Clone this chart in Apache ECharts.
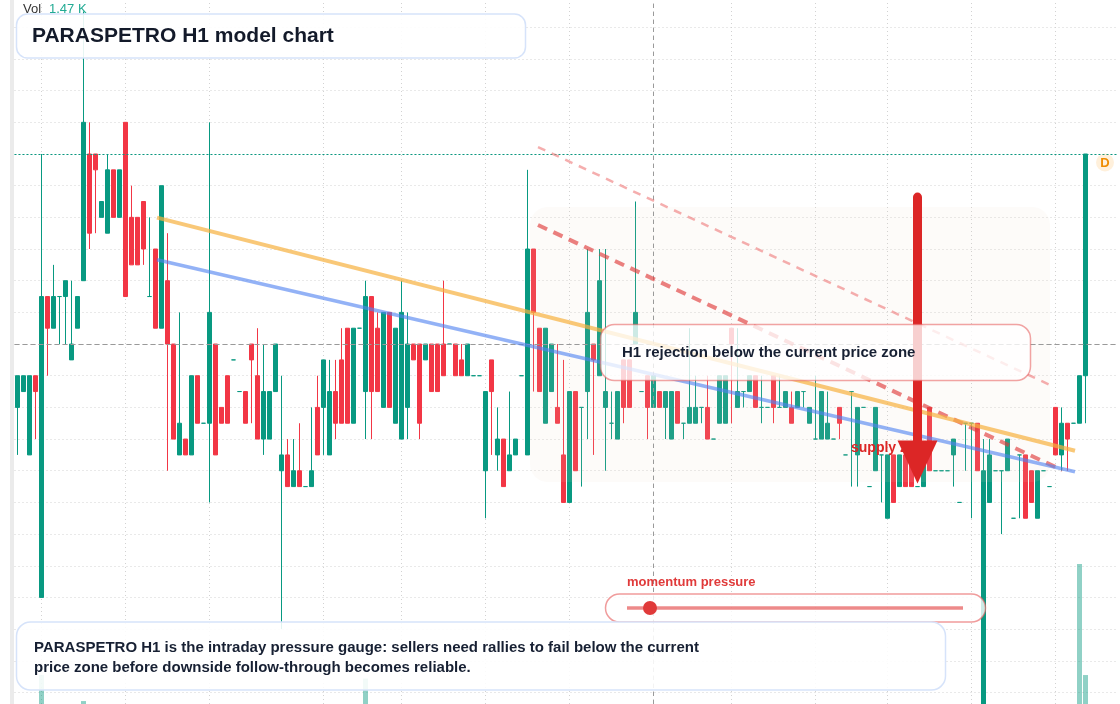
<!DOCTYPE html>
<html><head><meta charset="utf-8">
<script src="https://cdn.jsdelivr.net/npm/echarts@6/dist/echarts.min.js"></script>
<style>html,body{margin:0;padding:0;background:#fff}#c{width:1120px;height:704px}</style>
</head><body><div id="c"></div>
<script>
// ---------- data (H1 candles, oldest -> newest) ----------
const opens = [
.280,.285,.265,.290,.220,.315,.305,.315,.315,.295,
.305,.320,.360,.360,.340,.335,.355,.340,.370,.340,
.340,.345,.315,.330,.305,.320,.300,.265,.270,.265,
.290,.275,.275,.300,.280,.290,.295,.285,.285,.300,
.290,.270,.270,.285,.260,.265,.255,.260,.255,.255,
.280,.280,.265,.285,.295,.305,.275,.305,.285,.315,
.305,.280,.310,.275,.270,.280,.300,.300,.295,.300,
.300,.300,.300,.300,.295,.290,.290,.290,.260,.295,
.265,.270,.260,.265,.290,.265,.330,.305,.275,.285,
.280,.265,.250,.285,.280,.285,.300,.290,.280,.275,
.270,.295,.295,.300,.285,.290,.280,.285,.280,.270,
.285,.275,.275,.275,.280,.280,.270,.275,.275,.305,
.280,.285,.285,.290,.280,.280,.290,.280,.280,.280,
.280,.285,.275,.270,.270,.270,.270,.280,.265,.285,
.265,.280,.255,.260,.265,.245,.265,.255,.265,.265,
.255,.255,.280,.260,.260,.260,.265,.250,.275,.275,
.275,.180,.250,.260,.260,.260,.245,.265,.265,.260,
.245,.260,.255,.280,.265,.275,.275,.275,.290];
const closes = [
.290,.290,.290,.285,.315,.305,.315,.315,.320,.300,
.315,.370,.335,.355,.345,.355,.340,.355,.315,.325,
.325,.330,.315,.305,.350,.300,.270,.275,.265,.290,
.275,.275,.310,.265,.275,.275,.295,.285,.275,.295,
.270,.285,.285,.300,.265,.255,.260,.255,.255,.260,
.265,.295,.285,.275,.275,.275,.305,.305,.315,.285,
.285,.310,.280,.305,.310,.300,.295,.275,.300,.285,
.285,.290,.300,.290,.290,.300,.290,.290,.285,.285,
.270,.255,.265,.270,.290,.330,.310,.285,.305,.300,
.275,.250,.285,.260,.280,.310,.295,.320,.285,.275,
.285,.280,.280,.310,.285,.280,.290,.280,.285,.285,
.275,.275,.280,.280,.280,.270,.270,.290,.290,.300,
.285,.285,.290,.280,.280,.280,.280,.280,.285,.275,
.285,.285,.280,.270,.285,.275,.270,.275,.265,.285,
.280,.280,.255,.280,.265,.265,.250,.265,.255,.255,
.255,.265,.260,.260,.260,.260,.270,.250,.275,.275,
.260,.260,.265,.260,.260,.270,.245,.265,.245,.250,
.260,.260,.255,.265,.275,.270,.275,.290,.360];
const highs = [
.290,.290,.290,.290,.360,.315,.325,.315,.320,.320,
.315,.405,.370,.360,.345,.360,.355,.355,.370,.350,
.340,.345,.340,.330,.350,.335,.300,.310,.270,.290,
.290,.275,.370,.300,.280,.290,.295,.285,.285,.300,
.305,.300,.285,.300,.290,.270,.270,.275,.255,.280,
.290,.295,.295,.295,.305,.305,.305,.305,.320,.315,
.310,.310,.310,.305,.320,.310,.300,.300,.300,.300,
.300,.320,.300,.300,.300,.300,.290,.290,.285,.295,
.280,.270,.285,.270,.290,.355,.330,.305,.305,.300,
.300,.295,.285,.285,.280,.330,.300,.330,.330,.285,
.285,.295,.295,.345,.285,.290,.290,.285,.285,.285,
.285,.275,.305,.290,.280,.290,.270,.290,.290,.305,
.305,.285,.290,.290,.290,.280,.290,.290,.285,.285,
.285,.285,.280,.290,.285,.285,.270,.280,.265,.285,
.280,.280,.255,.280,.265,.265,.265,.265,.265,.265,
.255,.265,.280,.260,.260,.260,.270,.250,.275,.275,
.275,.270,.270,.260,.260,.270,.245,.265,.265,.260,
.260,.260,.255,.280,.280,.275,.275,.290,.360];
const lows = [
.265,.285,.265,.270,.220,.290,.305,.300,.300,.295,
.305,.320,.330,.335,.340,.335,.340,.340,.315,.325,
.325,.325,.315,.305,.305,.260,.270,.265,.265,.265,
.275,.275,.250,.265,.275,.275,.295,.285,.275,.275,
.270,.265,.270,.285,.210,.255,.255,.255,.255,.255,
.265,.265,.265,.270,.275,.275,.275,.305,.270,.270,
.285,.280,.280,.275,.270,.270,.295,.270,.295,.285,
.285,.290,.300,.290,.290,.290,.290,.290,.245,.265,
.260,.255,.260,.265,.290,.265,.285,.285,.275,.285,
.275,.250,.250,.260,.255,.270,.265,.290,.260,.270,
.270,.275,.280,.300,.285,.270,.280,.280,.270,.270,
.275,.270,.275,.275,.275,.270,.270,.275,.275,.275,
.280,.280,.285,.280,.275,.280,.275,.280,.280,.275,
.280,.280,.275,.270,.270,.270,.270,.270,.265,.255,
.255,.280,.255,.260,.250,.245,.250,.255,.255,.255,
.255,.255,.260,.260,.260,.260,.255,.250,.260,.245,
.260,.180,.250,.260,.240,.260,.245,.245,.245,.250,
.245,.260,.255,.265,.260,.260,.275,.275,.275];
const volumes = [
620,410,780,350,1470,520,460,300,380,420,
360,1020,690,480,330,540,450,400,820,510,
440,470,260,560,740,650,700,480,390,610,
520,240,880,600,330,450,210,190,370,340,
560,480,430,520,760,510,350,420,180,390,
470,530,480,410,500,560,520,220,1410,640,
490,560,600,430,610,520,330,470,290,420,
380,450,200,370,310,400,190,210,720,460,
380,490,350,300,180,910,680,520,560,410,
360,590,640,530,300,620,410,580,470,260,
390,420,380,540,170,350,380,260,310,390,
330,200,290,240,180,320,170,410,430,300,
260,190,280,330,220,160,340,210,250,280,
230,200,260,240,370,280,170,290,190,260,
440,180,200,500,270,560,430,380,360,340,
230,320,540,190,180,200,350,210,260,300,
470,880,480,220,310,390,200,280,520,360,
420,170,190,480,360,300,160,3390,1470];
// hourly slots on the axis (the last few are still empty)
const slots = Array.from({length: 184}, (_, i) => 'H' + (i + 1));
// first bar of each trading session (dotted vertical separators)
const sessionStarts = [4, 18, 32, 51, 64, 78, 92, 106, 119, 133, 145, 159, 173];
// price gridlines and visible price window
const priceLevels = [0.19,0.20,0.21,0.22,0.23,0.24,0.25,0.26,0.27,0.28,0.29,0.30,0.31,0.32,0.33,0.34,0.35,0.36,0.37,0.38,0.39,0.40];
const priceMin = 0.18636, priceMax = 0.40862;
// volume window of the lower pane
const volMin = 969, volMax = 4498;
// annotation levels [bar index, price]
const trendOrange = [[23.25, 0.3399], [176.25, 0.2663]];
const trendBlue = [[23.25, 0.3266], [176.25, 0.2597]];
const rejectLine = [[86.75, 0.3376], [174.1, 0.2602]];
const upperRejectLine = [[86.75, 0.3622], [172.4, 0.2868]];
const arrowShaft = [[150, 0.3464], [150, 0.2694]];
const arrowHead = [[150, 0.2628]];
const crosshair = {bar: 106, price: 0.3017};

const FONT = '"Liberation Sans", Arial, Helvetica, sans-serif';
const UP = '#089981', DOWN = '#f23645';

const candles = opens.map((o, i) => [o, closes[i], lows[i], highs[i]]);
const volData = volumes.map((v, i) => ({
  value: v,
  itemStyle: {color: closes[i] >= opens[i] ? 'rgba(8,153,129,0.45)' : 'rgba(242,54,69,0.45)'}
}));
const lastClose = closes[closes.length - 1];
const lastVol = volumes[volumes.length - 1];

const gridBase = {left: 14.5, width: 1104};
const chart = echarts.init(document.getElementById('c'), null, {renderer: 'canvas'});
const gridLine = {color: '#d2d2d2', width: 1, type: [1, 3]};

const option = {
  animation: false,
  backgroundColor: '#ffffff',
  grid: [
    Object.assign({top: 0, height: 704}, gridBase),
    Object.assign({top: 500, height: 204}, gridBase)
  ],
  xAxis: [
    {type: 'category', gridIndex: 0, data: slots, boundaryGap: true,
     axisLine: {show: false}, axisTick: {show: false}, axisLabel: {show: false}, splitLine: {show: false}},
    {type: 'value', gridIndex: 0, min: -0.5, max: slots.length - 0.5, show: false},
    {type: 'category', gridIndex: 1, data: slots, boundaryGap: true, show: false}
  ],
  yAxis: [
    {type: 'value', gridIndex: 0, min: priceMin, max: priceMax,
     axisLine: {show: false}, axisTick: {show: false}, axisLabel: {show: false}, splitLine: {show: false}},
    {type: 'value', gridIndex: 1, min: volMin, max: volMax, show: false, splitLine: {show: false}}
  ],
  series: [
    { // grid: price levels + session separators
      type: 'line', xAxisIndex: 0, yAxisIndex: 0, data: [], z: 1, silent: true,
      markLine: {z: 1, silent: true, symbol: 'none', animation: false, label: {show: false},
        lineStyle: gridLine,
        data: sessionStarts.map(i => ({xAxis: slots[i]})).concat(priceLevels.map(p => ({yAxis: p})))}
    },
    {
      type: 'bar', xAxisIndex: 2, yAxisIndex: 1, data: volData, barWidth: 5, z: 2, silent: true
    },
    {
      type: 'candlestick', xAxisIndex: 0, yAxisIndex: 0, data: candles, barWidth: 4, z: 3, silent: true,
      itemStyle: {color: UP, color0: DOWN, borderColor: UP, borderColor0: DOWN, borderColorDoji: UP, borderWidth: 1}
    },
    { // crosshair + last price line
      type: 'line', xAxisIndex: 0, yAxisIndex: 0, data: [], z: 4, silent: true,
      markLine: {z: 4, silent: true, symbol: 'none', animation: false, label: {show: false},
        data: [
          {xAxis: slots[crosshair.bar], lineStyle: {color: '#9a9a9a', width: 1, type: [4, 4]}},
          {yAxis: crosshair.price, lineStyle: {color: '#9a9a9a', width: 1, type: [5, 3]}},
          {yAxis: lastClose, lineStyle: {color: UP, width: 1, type: [2, 2]}}
        ]}
    },
    {type: 'line', xAxisIndex: 1, yAxisIndex: 0, data: upperRejectLine, showSymbol: false, z: 5, silent: true,
     lineStyle: {color: 'rgba(238,120,120,0.6)', width: 2.5, type: [8, 7]}},
    {type: 'line', xAxisIndex: 1, yAxisIndex: 0, data: rejectLine, showSymbol: false, z: 5, silent: true,
     lineStyle: {color: 'rgba(225,60,60,0.65)', width: 4, type: [10, 7]}},
    {type: 'line', xAxisIndex: 1, yAxisIndex: 0, data: trendOrange, showSymbol: false, z: 5, silent: true,
     lineStyle: {color: 'rgba(247,176,62,0.7)', width: 4}},
    {type: 'line', xAxisIndex: 1, yAxisIndex: 0, data: trendBlue, showSymbol: false, z: 5, silent: true,
     lineStyle: {color: 'rgba(80,130,240,0.62)', width: 3.5}},
    {type: 'line', xAxisIndex: 1, yAxisIndex: 0, data: arrowShaft, showSymbol: false, z: 6, silent: true,
     lineStyle: {color: '#dc2626', width: 9, cap: 'round'}},
    {type: 'scatter', xAxisIndex: 1, yAxisIndex: 0, data: arrowHead, z: 7, silent: true,
     symbol: 'triangle', symbolSize: [40, 43], symbolRotate: 180, itemStyle: {color: '#dc2626', opacity: 1}}
  ],
  graphic: {elements: [
    {type: 'rect', z: 0, shape: {x: 10, y: 0, width: 4, height: 704}, style: {fill: '#ebebeb'}, silent: true},
    // highlighted supply zone
    {type: 'rect', z: 4, shape: {x: 530, y: 207, width: 520, height: 275, r: 18},
     style: {fill: 'rgba(240,215,200,0.1)'}, silent: true},
    {type: 'text', z: 6.5, style: {text: 'supply zone', x: 851, y: 448, font: 'bold 14px ' + FONT,
     fill: '#dc2626', textVerticalAlign: 'middle', verticalAlign: 'middle'}, silent: true},
    // callout
    {type: 'rect', z: 8, shape: {x: 600.5, y: 324.5, width: 430, height: 56, r: 14},
     style: {fill: 'rgba(255,255,255,0.78)', stroke: 'rgba(230,90,90,0.55)', lineWidth: 1.5}, silent: true},
    {type: 'text', z: 9, style: {text: 'H1 rejection below the current price zone', x: 622, y: 353,
     font: 'bold 15px ' + FONT, fill: '#172033', textVerticalAlign: 'middle', verticalAlign: 'middle'}, silent: true},
    // D marker
    {type: 'circle', z: 9, shape: {cx: 1105, cy: 162.5, r: 9}, style: {fill: 'rgba(255,152,0,0.14)'}, silent: true},
    {type: 'text', z: 9, style: {text: 'D', x: 1105, y: 163, font: 'bold 13px ' + FONT, fill: '#f08c00',
     textAlign: 'center', align: 'center', textVerticalAlign: 'middle', verticalAlign: 'middle'}, silent: true},
    // volume legend
    {type: 'text', z: 10, style: {text: 'Vol', x: 23, y: 9, font: '13px ' + FONT, fill: '#333333',
     textVerticalAlign: 'middle', verticalAlign: 'middle'}, silent: true},
    {type: 'text', z: 10, style: {text: (lastVol / 1000).toFixed(2) + ' K', x: 49, y: 9, font: '13px ' + FONT,
     fill: '#22ab94', textVerticalAlign: 'middle', verticalAlign: 'middle'}, silent: true},
    // title box
    {type: 'rect', z: 10, shape: {x: 16.5, y: 14, width: 509, height: 44, r: 11},
     style: {fill: 'rgba(255,255,255,0.9)', stroke: '#d6e3fa', lineWidth: 1.5}, silent: true},
    {type: 'text', z: 11, style: {text: 'PARASPETRO H1 model chart', x: 32, y: 36, font: 'bold 21px ' + FONT,
     fill: '#131a2a', textVerticalAlign: 'middle', verticalAlign: 'middle'}, silent: true},
    // momentum pressure pill
    {type: 'text', z: 10, style: {text: 'momentum pressure', x: 627, y: 582.5, font: 'bold 13px ' + FONT,
     fill: '#e03a3a', textVerticalAlign: 'middle', verticalAlign: 'middle'}, silent: true},
    {type: 'rect', z: 10, shape: {x: 605.5, y: 594, width: 380, height: 28, r: 14},
     style: {fill: 'rgba(255,255,255,0.8)', stroke: 'rgba(230,90,90,0.6)', lineWidth: 1.5}, silent: true},
    {type: 'line', z: 11, shape: {x1: 627, y1: 608, x2: 963, y2: 608},
     style: {stroke: 'rgba(225,60,60,0.6)', lineWidth: 3.5}, silent: true},
    {type: 'circle', z: 12, shape: {cx: 650, cy: 608, r: 7}, style: {fill: '#e03a3a'}, silent: true},
    // bottom note
    {type: 'rect', z: 10, shape: {x: 16.5, y: 622, width: 929, height: 68, r: 14},
     style: {fill: 'rgba(255,255,255,0.88)', stroke: '#d6e3fa', lineWidth: 1.5}, silent: true},
    {type: 'text', z: 11, style: {text: 'PARASPETRO H1 is the intraday pressure gauge: sellers need rallies to fail below the current',
     x: 34, y: 647.5, font: 'bold 15px ' + FONT, fill: '#172033', textVerticalAlign: 'middle', verticalAlign: 'middle'}, silent: true},
    {type: 'text', z: 11, style: {text: 'price zone before downside follow-through becomes reliable.',
     x: 34, y: 667.5, font: 'bold 15px ' + FONT, fill: '#172033', textVerticalAlign: 'middle', verticalAlign: 'middle'}, silent: true}
  ]}
};
chart.setOption(option);
</script>
</body></html>
